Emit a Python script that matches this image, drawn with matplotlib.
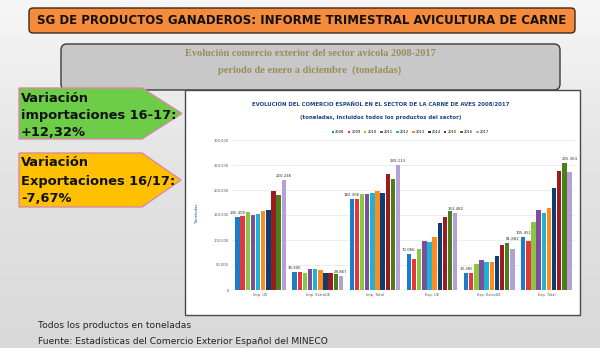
import numpy as np
import matplotlib
matplotlib.use("Agg")
import matplotlib.pyplot as plt
from matplotlib.patches import FancyBboxPatch, Polygon, Rectangle
from matplotlib.colors import LinearSegmentedColormap

years = ['2008', '2009', '2010', '2011', '2012', '2013', '2014', '2015', '2016', '2017']
categories = ['Imp. UE', 'Imp. ExtraUE', 'Imp. Total', 'Exp. UE', 'Exp. ExtraUE', 'Exp. Total']

imp_ue = [145400, 147500, 157000, 151000, 151500, 158000, 161000, 198000, 190000, 220246]
imp_extra = [36906, 35500, 34500, 42000, 42000, 40500, 34000, 34000, 31789, 28867]
imp_total = [182306, 183000, 191500, 193000, 193500, 198500, 195000, 232000, 221789, 249113]
exp_ue = [72066, 63000, 82500, 98000, 96000, 106000, 134500, 146500, 158000, 153482]
exp_extra = [33385, 34000, 52500, 60000, 55500, 57000, 67500, 90000, 94000, 81882]
exp_total = [105451, 98000, 136500, 159500, 154000, 164500, 204000, 238500, 254916, 235364]

series = [imp_ue, imp_extra, imp_total, exp_ue, exp_extra, exp_total]
colors = ['#1b7cc9', '#e5363c', '#8cc540', '#7b4fa0', '#1fb2d3', '#ff8b1f',
          '#0d3e72', '#9b1b1e', '#4e7e1c', '#b3a0d6']

W, H = 600, 348
fig = plt.figure(figsize=(W / 100, H / 100), dpi=100)

# background axes in pixel coords
bg = fig.add_axes([0, 0, 1, 1])
bg.set_xlim(0, W)
bg.set_ylim(H, 0)
bg.axis('off')
grad = np.linspace(0, 1, 256).reshape(-1, 1)
cmap = LinearSegmentedColormap.from_list('bgc', ['#f6f6f6', '#e3e3e3', '#d9d9d9'])
bg.imshow(grad, extent=[0, W, H, 0], aspect='auto', cmap=cmap, zorder=0)

# orange banner
bg.add_patch(FancyBboxPatch((29, 8), 546, 25, boxstyle='round,pad=0,rounding_size=4',
                            fc='#f78b3c', ec='#3a2a1a', lw=1.0, zorder=2))
bg.text(302, 20.5, 'SG DE PRODUCTOS GANADEROS: INFORME TRIMESTRAL AVICULTURA DE CARNE',
        ha='center', va='center', fontsize=8.5, fontweight='bold', color='#111111', zorder=3)

# gray subtitle box
bg.add_patch(FancyBboxPatch((61, 44), 499, 46, boxstyle='round,pad=0,rounding_size=6',
                            fc='#c8c8c8', ec='#3a3a3a', lw=1.0, zorder=2))
bg.text(310, 53, 'Evolución comercio exterior del sector avícola 2008-2017',
        ha='center', va='center', fontsize=7.5, fontweight='bold', color='#9a8d5c',
        family='Liberation Serif', zorder=3)
bg.text(310, 70, 'periodo de enero a diciembre  (toneladas)',
        ha='center', va='center', fontsize=7.5, fontweight='bold', color='#9a8d5c',
        family='Liberation Serif', zorder=3)

# green arrow
bg.add_patch(Polygon([(19, 88), (142, 88), (182, 113.5), (142, 139), (19, 139)],
                     closed=True, fc='#6dcc48', ec='#d98aa6', lw=1.0, zorder=2))
for yy, t in zip([98, 116, 133], ['Variación', 'importaciones 16-17:', '+12,32%']):
    bg.text(21, yy, t, ha='left', va='center', fontsize=9.4, fontweight='bold',
            color='#111111', zorder=3)

# orange arrow
bg.add_patch(Polygon([(19, 153), (142, 153), (181, 180), (142, 207), (19, 207)],
                     closed=True, fc='#ffc000', ec='#d98aa6', lw=1.0, zorder=2))
for yy, t in zip([162, 181, 199], ['Variación', 'Exportaciones 16/17:', '-7,67%']):
    bg.text(21, yy, t, ha='left', va='center', fontsize=9.4, fontweight='bold',
            color='#111111', zorder=3)

# chart white box
bg.add_patch(Rectangle((185, 90), 395, 225, fc='white', ec='#4a4a4a', lw=1.0, zorder=2))
bg.text(381, 105, 'EVOLUCIÓN DEL COMERCIO ESPAÑOL EN EL SECTOR DE LA CARNE DE AVES 2008/2017',
        ha='center', va='center', fontsize=3.9, fontweight='bold', color='#1c4585', zorder=3)
bg.text(381, 117, '(toneladas, incluidos todos los productos del sector)',
        ha='center', va='center', fontsize=3.9, fontweight='bold', color='#1c4585', zorder=3)
bg.text(197, 213, 'Toneladas', ha='center', va='center', rotation=90, fontsize=2.8,
        color='#1f4f96', zorder=3)

# footer
bg.text(38, 326, 'Todos los productos en toneladas', ha='left', va='center',
        fontsize=6.6, color='#222222', zorder=3)
bg.text(38, 341, 'Fuente: Estadísticas del Comercio Exterior Español del MINECO', ha='left',
        va='center', fontsize=6.6, color='#222222', zorder=3)

# chart axes
left, right, top, bottom = 232, 575, 140, 290
ax = fig.add_axes([left / W, (H - bottom) / H, (right - left) / W, (bottom - top) / H])
ax.set_facecolor('none')
n = len(years)
step = 0.09
bw = 0.077
x = np.arange(len(categories))
for i, yr in enumerate(years):
    vals = [s[i] for s in series]
    ax.bar(x + (i - (n - 1) / 2) * step, vals, width=bw, color=colors[i], label=yr, zorder=3)

def fmt(v):
    return '{:,.0f}'.format(v).replace(',', '.')

for j, s in enumerate(series):
    x0 = x[j] + (0 - (n - 1) / 2) * step
    x9 = x[j] + (n - 1 - (n - 1) / 2) * step
    ax.text(x0, s[0] + 4000, fmt(s[0]), ha='center', va='bottom', fontsize=2.8, color='#333333', zorder=4)
    ax.text(x9, max(s[8], s[9]) + 4000 if j >= 4 else s[9] + 4000, fmt(s[9]), ha='center',
            va='bottom', fontsize=2.8, color='#333333', zorder=4)

ax.set_xlim(-0.5, len(categories) - 0.5)
ax.set_ylim(0, 300000)
ax.set_yticks(np.arange(0, 300001, 50000))
ax.set_yticklabels([fmt(v) for v in np.arange(0, 300001, 50000)], fontsize=2.6, color='#555555')
ax.set_xticks(x)
ax.set_xticklabels(categories, fontsize=2.6, color='#555555')
ax.tick_params(length=0, pad=2)
ax.grid(axis='y', color='#e6e6e6', lw=0.5, zorder=0)
for sp in ax.spines.values():
    sp.set_visible(False)
ax.axhline(0, color='#d0d0d0', lw=0.5, zorder=2)

leg = ax.legend(loc='lower center', bbox_to_anchor=(0.52, 1.03), ncol=10, fontsize=2.6,
                frameon=False, handlelength=0.6, handleheight=0.6, columnspacing=1.0,
                handletextpad=0.3, borderaxespad=0)

fig.savefig('out.png', dpi=100)
